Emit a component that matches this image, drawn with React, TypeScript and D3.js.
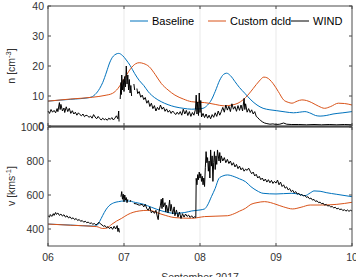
import React from 'react';
import * as d3 from 'd3';

// time in days after 2017-09-06 00:00
const dayTicks = [0, 1, 2, 3, 4];
const dayLabels = ['06', '07', '08', '09', '10'];
const densityTicks = [0, 10, 20, 30, 40];
const speedTicks = [400, 600, 800, 1000];

const seriesNames = ['Baseline', 'Custom dcld', 'WIND'];
const seriesColors = ['#0072BD', '#D95319', '#000000'];

// proton density [cm^-3]
const baselineDensity: [number, number][] = [
  [0, 8.3], [0.3, 8.9], [0.55, 9.5], [0.62, 10.5], [0.68, 12.5], [0.72, 14.5], [0.77, 18],
  [0.81, 21], [0.86, 23.3], [0.93, 24.2], [0.98, 23.5], [1.03, 22], [1.08, 20.2], [1.14, 17.5],
  [1.2, 15.2], [1.26, 13.5], [1.32, 11.4], [1.4, 9.5], [1.49, 8.1], [1.58, 7.1], [1.67, 6.4],
  [1.78, 5.9], [1.89, 5.6], [1.98, 5.7], [2.04, 5.9], [2.1, 7], [2.15, 8.7], [2.2, 11.5],
  [2.26, 15.3], [2.31, 17.2], [2.35, 17.6], [2.4, 16.8], [2.46, 14.8], [2.52, 12.8], [2.59, 10.9],
  [2.67, 8.7], [2.75, 7], [2.83, 5.9], [2.92, 5.4], [3.01, 5.1], [3.12, 4.7], [3.23, 4.4],
  [3.31, 4.6], [3.38, 4.8], [3.46, 4.2], [3.52, 3.5], [3.58, 3.3], [3.66, 3.5], [3.75, 4.0],
  [3.88, 4.4], [4.0, 4.8],
];

const customDensity: [number, number][] = [
  [0, 8.3], [0.3, 9.0], [0.59, 9.6], [0.75, 10.2], [0.85, 10.9], [0.92, 12.5], [0.98, 14.8],
  [1.04, 17.3], [1.09, 19.2], [1.15, 20.7], [1.2, 21.1], [1.26, 20.8], [1.33, 19.8], [1.41, 17.2],
  [1.49, 14.2], [1.58, 12], [1.67, 10.3], [1.78, 9], [1.89, 8.1], [2.0, 7.9], [2.06, 7.8],
  [2.2, 7.2], [2.32, 6.7], [2.42, 7.0], [2.5, 7.6], [2.57, 8.8], [2.63, 10.3], [2.7, 12.5],
  [2.78, 15], [2.84, 16.3], [2.88, 16.1], [2.96, 14.2], [3.03, 11.5], [3.1, 8.7], [3.16, 7.9],
  [3.21, 7.6], [3.28, 8.3], [3.34, 8.7], [3.4, 8.5], [3.47, 7.8], [3.56, 6.6], [3.64, 5.9],
  [3.72, 6.5], [3.82, 7.6], [3.9, 7.5], [4.0, 7.0],
];

// null marks a data gap
const windDensity: [number, number | null][] = [
  [0, 5.0], [0.02, 4.2], [0.04, 5.5], [0.06, 4.6], [0.08, 5.2], [0.1, 4.4], [0.12, 5.8],
  [0.13, 4.8], [0.15, 7.8], [0.16, 5.5], [0.17, 7.2], [0.19, 5.0], [0.21, 6.0], [0.22, 4.5],
  [0.24, 6.4], [0.26, 4.8], [0.28, 5.9], [0.3, 4.2], [0.32, 5.1], [0.34, 4.0], [0.36, 4.6],
  [0.38, 3.6], [0.4, 4.4], [0.42, 3.8], [0.44, 3.4], [0.46, 4.0], [0.48, 3.1], [0.5, 3.6],
  [0.52, 3.4], [0.54, 2.9], [0.56, 3.3], [0.58, 2.6], [0.6, 3.8], [0.62, 3.0], [0.64, 2.4],
  [0.66, 3.2], [0.68, 2.5], [0.7, 2.0], [0.72, 2.6], [0.74, 2.1], [0.76, 2.4], [0.78, 1.9],
  [0.8, 2.6], [0.82, 2.2], [0.84, 2.8], [0.86, 2.0], [0.88, 2.6], [0.9, 3.4], [0.92, 2.4],
  [0.93, 5.0], [0.935, 1.5], [0.94, null],
  [0.95, 9.0], [0.96, 14.5], [0.965, 10.5], [0.97, 17.0], [0.98, 12.0], [0.99, 15.5],
  [1.0, 11.5], [1.01, 16.5], [1.02, 13.0], [1.03, 20.0], [1.04, 14.0], [1.05, 17.0],
  [1.06, 12.0], [1.07, 15.5], [1.08, 11.0], [1.09, 13.5], [1.1, 10.0], [1.11, null],
  [1.13, 14.0], [1.14, 12.0], [1.15, null],
  [1.17, 12.5], [1.18, 10.8], [1.2, 11.5], [1.22, 9.6], [1.24, 10.3], [1.26, 8.8], [1.28, 9.5],
  [1.3, 7.6], [1.32, 8.5], [1.34, 6.5], [1.36, 7.6], [1.38, 5.8], [1.4, 6.8], [1.42, 5.0],
  [1.44, 6.2], [1.46, 5.4], [1.48, 7.0], [1.5, 5.6], [1.52, 6.3], [1.54, 4.9], [1.56, 5.7],
  [1.58, 4.6], [1.6, 5.2], [1.62, 4.2], [1.64, 5.0], [1.66, 4.4], [1.68, 3.8], [1.7, 4.6],
  [1.72, 3.9], [1.74, 4.8], [1.76, 3.6], [1.78, 5.6], [1.8, 4.0], [1.82, 5.2], [1.84, 3.5],
  [1.86, 4.8], [1.88, 3.2], [1.9, 4.5], [1.92, 3.6], [1.94, 5.5], [1.95, 10.3], [1.96, 4.0],
  [1.97, 8.0], [1.98, 3.5], [1.99, 11.0], [2.0, 4.5], [2.01, 8.5], [2.02, 3.0], [2.04, 4.2],
  [2.06, 2.8], [2.08, 4.0], [2.1, 2.6], [2.12, 3.6], [2.14, 2.4], [2.16, 3.8], [2.18, 2.9],
  [2.2, 4.4], [2.22, 3.2], [2.24, 5.0], [2.26, 3.6], [2.28, 4.8], [2.3, 6.2], [2.32, 4.6],
  [2.34, 7.0], [2.36, 5.3], [2.38, 6.6], [2.4, 4.8], [2.42, 7.4], [2.44, 5.6], [2.46, 6.5],
  [2.48, 4.9], [2.5, 6.8], [2.52, 5.2], [2.54, 7.0], [2.56, 5.0], [2.58, 9.2], [2.59, 5.5],
  [2.6, 7.4], [2.62, 4.6], [2.64, 5.8], [2.66, 4.5], [2.68, 5.4], [2.7, 4.0], [2.72, 4.8],
  [2.74, 3.2], [2.76, 2.8], [2.78, 2.2], [2.8, 1.8], [2.82, 1.4], [2.85, 1.0], [2.88, 0.8],
  [2.92, 0.6], [2.96, 0.7], [3.0, 0.5], [3.05, 0.6], [3.1, 1.0], [3.14, 0.6], [3.2, 0.5],
  [3.3, 0.5], [3.4, 0.4], [3.5, 0.5], [3.6, 0.4], [3.7, 0.5], [3.8, 0.4], [3.9, 0.5], [4.0, 0.4],
];

// solar wind speed [km/s]
const baselineSpeed: [number, number][] = [
  [0, 429], [0.3, 423], [0.6, 417], [0.64, 420], [0.68, 445], [0.72, 480], [0.76, 512],
  [0.8, 535], [0.86, 553], [0.93, 561], [1.0, 565], [1.05, 565], [1.15, 556], [1.26, 545],
  [1.36, 528], [1.5, 506], [1.67, 492], [1.8, 497], [1.89, 506], [2.0, 512], [2.06, 518],
  [2.1, 541], [2.15, 590], [2.2, 639], [2.25, 698], [2.3, 712], [2.36, 718], [2.45, 708],
  [2.52, 695], [2.6, 678], [2.67, 649], [2.75, 625], [2.83, 610], [3.0, 606], [3.2, 610],
  [3.3, 605], [3.38, 596], [3.45, 612], [3.5, 624], [3.58, 622], [3.66, 614], [3.8, 604],
  [4.0, 590],
];

const customSpeed: [number, number][] = [
  [0, 429], [0.3, 422], [0.64, 414], [0.72, 403], [0.77, 405], [0.84, 428], [0.9, 446],
  [0.97, 463], [1.05, 485], [1.12, 498], [1.2, 506], [1.32, 510], [1.5, 486], [1.67, 467],
  [1.89, 463], [2.06, 473], [2.36, 478], [2.45, 490], [2.52, 505], [2.6, 522], [2.67, 545],
  [2.75, 555], [2.85, 561], [2.93, 555], [3.0, 545], [3.1, 530], [3.22, 518], [3.33, 528],
  [3.45, 541], [3.6, 541], [3.8, 545], [4.0, 557],
];

const windSpeed: [number, number | null][] = [
  [0, 478], [0.02, 470], [0.03, 485], [0.05, 474], [0.07, 490], [0.08, 480], [0.1, 497],
  [0.11, 486], [0.13, 494], [0.15, 480], [0.17, 488], [0.19, 476], [0.21, 484], [0.23, 470],
  [0.25, 478], [0.27, 465], [0.29, 472], [0.31, 460], [0.33, 466], [0.35, 455], [0.37, 462],
  [0.39, 450], [0.41, 456], [0.43, 445], [0.45, 450], [0.47, 440], [0.49, 446], [0.51, 437],
  [0.53, 441], [0.55, 432], [0.57, 436], [0.59, 428], [0.61, 432], [0.63, 424], [0.65, 430],
  [0.67, 440], [0.69, 430], [0.71, 424], [0.73, 416], [0.75, 420], [0.77, 408], [0.79, 414],
  [0.81, 402], [0.83, 412], [0.85, 398], [0.87, 416], [0.89, 400], [0.91, 420], [0.92, 385],
  [0.93, 405], [0.94, 380], [0.95, null],
  [0.96, 590], [0.97, 620], [0.98, 575], [0.99, 605], [1.0, 560], [1.01, 600], [1.02, 570],
  [1.03, 585], [1.04, 555], [1.05, 575], [1.06, null],
  [1.08, 560], [1.09, 570], [1.1, null],
  [1.13, 550], [1.16, 548], [1.2, 540], [1.24, 545], [1.26, 530], [1.28, 545], [1.3, 520],
  [1.32, 510], [1.34, 530], [1.36, 495], [1.38, 505], [1.4, 492], [1.42, 510], [1.44, 470],
  [1.45, 455], [1.46, 500], [1.48, 540], [1.49, 575], [1.5, 520], [1.51, 582], [1.52, 530],
  [1.54, 555], [1.55, 500], [1.56, 540], [1.58, 495], [1.6, 570], [1.61, 505], [1.62, 545],
  [1.64, 488], [1.66, 530], [1.67, 478], [1.69, 512], [1.71, 470], [1.73, 500], [1.75, 462],
  [1.77, 490], [1.79, 470], [1.81, 488], [1.83, 474], [1.85, 482], [1.87, 468], [1.89, 478],
  [1.91, 466], [1.93, 472], [1.945, 468], [1.95, 698], [1.96, 660], [1.97, 720], [1.98, 690],
  [1.99, 735], [2.0, 700], [2.01, 725], [2.02, 680], [2.03, 710], [2.04, 660], [2.05, 700],
  [2.06, 650], [2.07, 760], [2.08, 855], [2.09, 790], [2.1, 820], [2.11, 740], [2.12, 800],
  [2.13, 700], [2.14, 865], [2.15, 770], [2.16, 830], [2.17, 680], [2.18, 790], [2.19, 855],
  [2.2, 750], [2.21, 830], [2.22, 780], [2.23, 865], [2.25, 800], [2.26, 850], [2.27, 790],
  [2.28, 830], [2.3, 800], [2.32, 820], [2.34, 790], [2.36, 810], [2.38, 785], [2.4, 800],
  [2.42, 775], [2.44, 790], [2.46, 765], [2.48, 780], [2.5, 755], [2.52, 770], [2.54, 748],
  [2.56, 760], [2.58, 740], [2.6, 752], [2.62, 745], [2.64, 758], [2.66, 740], [2.68, 725],
  [2.7, 735], [2.72, 712], [2.74, 722], [2.76, 700], [2.78, 710], [2.8, 690], [2.82, 700],
  [2.84, 682], [2.86, 694], [2.88, 676], [2.9, 690], [2.92, 672], [2.94, 686], [2.96, 668],
  [2.98, 680], [3.0, 670], [3.02, 688], [3.04, 660], [3.06, 676], [3.08, 650], [3.1, 660],
  [3.12, 640], [3.14, 648], [3.16, 630], [3.18, 638], [3.2, 620], [3.22, 628], [3.24, 612],
  [3.26, 620], [3.28, 605], [3.3, 610], [3.32, 598], [3.34, 604], [3.36, 594], [3.38, 598],
  [3.4, 586], [3.42, 590], [3.44, 578], [3.46, 582], [3.48, 570], [3.5, 574], [3.52, 562],
  [3.54, 566], [3.56, 555], [3.58, 558], [3.6, 548], [3.62, 552], [3.64, 540], [3.66, 545],
  [3.68, 535], [3.7, 538], [3.72, 530], [3.74, 532], [3.76, 524], [3.78, 528], [3.8, 518],
  [3.82, 522], [3.84, 514], [3.86, 518], [3.88, 508], [3.9, 514], [3.92, 505], [3.94, 512],
  [3.96, 504], [3.98, 510], [4.0, 506],
];

const W = 356;
const H = 277;
const FONT = '"Liberation Sans", Arial, Helvetica, sans-serif';
const AXIS = '#4a4a4a';
const TEXT = '#333333';

const x = d3.scaleLinear().domain([0, 4]).range([48, 352]);
const yN = d3.scaleLinear().domain([0, 40]).range([126, 6]);
const yV = d3.scaleLinear().domain([300, 1000]).range([246, 127]);

type Pt = [number, number | null];

function path(data: Pt[], y: d3.ScaleLinear<number, number>, smooth: boolean) {
  const gen = d3
    .line<Pt>()
    .defined((d) => d[1] !== null)
    .x((d) => x(d[0]))
    .y((d) => y(d[1] as number));
  if (smooth) gen.curve(d3.curveMonotoneX);
  return gen(data) || '';
}

function Panel({
  y,
  ticks,
  series,
}: {
  y: d3.ScaleLinear<number, number>;
  ticks: number[];
  series: { data: Pt[]; color: string; smooth: boolean }[];
}) {
  const [y0, y1] = y.range();
  const [x0, x1] = x.range();
  return (
    <g>
      {dayTicks.slice(1, -1).map((d) => (
        <line key={'g' + d} x1={x(d)} x2={x(d)} y1={y1} y2={y0} stroke="#e3e3e3" strokeWidth={0.8} />
      ))}
      {series.map((s, i) => (
        <path key={i} d={path(s.data, y, s.smooth)} fill="none" stroke={s.color} strokeWidth={1} />
      ))}
      <rect x={x0} y={y1} width={x1 - x0} height={y0 - y1} fill="none" stroke={AXIS} strokeWidth={1} />
      {ticks.map((t) => (
        <g key={'t' + t}>
          <line x1={x0} x2={x0 + 3} y1={y(t)} y2={y(t)} stroke={AXIS} />
          <line x1={x1} x2={x1 - 3} y1={y(t)} y2={y(t)} stroke={AXIS} />
          <text x={44} y={y(t)} dy="0.35em" textAnchor="end" fontSize={10.5} fill={TEXT} fontFamily={FONT}>
            {t}
          </text>
        </g>
      ))}
      {dayTicks.map((d) => (
        <g key={'x' + d}>
          <line x1={x(d)} x2={x(d)} y1={y0} y2={y0 - 3} stroke={AXIS} />
          <line x1={x(d)} x2={x(d)} y1={y1} y2={y1 + 3} stroke={AXIS} />
        </g>
      ))}
    </g>
  );
}

export default function App() {
  const legendX = [130, 208, 291];
  return (
    <svg width={W} height={H} style={{ position: 'absolute', left: 0, top: 0, background: '#fff' }}>
      <Panel
        y={yN}
        ticks={densityTicks}
        series={[
          { data: baselineDensity, color: seriesColors[0], smooth: true },
          { data: customDensity, color: seriesColors[1], smooth: true },
          { data: windDensity, color: seriesColors[2], smooth: false },
        ]}
      />
      <Panel
        y={yV}
        ticks={speedTicks}
        series={[
          { data: baselineSpeed, color: seriesColors[0], smooth: true },
          { data: customSpeed, color: seriesColors[1], smooth: true },
          { data: windSpeed, color: seriesColors[2], smooth: false },
        ]}
      />
      <line x1={48} x2={352} y1={126.5} y2={126.5} stroke={AXIS} strokeWidth={1.6} />

      {seriesNames.map((name, i) => (
        <g key={name}>
          <line x1={legendX[i]} x2={legendX[i] + 18} y1={21} y2={21} stroke={seriesColors[i]} strokeWidth={1} />
          <text x={legendX[i] + 22} y={21} dy="0.35em" fontSize={11} fill="#000" fontFamily={FONT}>
            {name}
          </text>
        </g>
      ))}

      {dayTicks.map((d, i) => (
        <text key={d} x={x(d)} y={261} textAnchor="middle" fontSize={10.5} fill={TEXT} fontFamily={FONT}>
          {dayLabels[i]}
        </text>
      ))}
      <text x={200} y={281} textAnchor="middle" fontSize={10.5} fill={TEXT} fontFamily={FONT}>
        September 2017
      </text>

      <text transform="translate(15,66) rotate(-90)" textAnchor="middle" fontSize={10.5} fill={TEXT} fontFamily={FONT}>
        n [cm
        <tspan dy={-4} fontSize={7.5}>-3</tspan>
        <tspan dy={4}>]</tspan>
      </text>
      <text transform="translate(15,186) rotate(-90)" textAnchor="middle" fontSize={10.5} fill={TEXT} fontFamily={FONT}>
        v [kms
        <tspan dy={-4} fontSize={7.5}>-1</tspan>
        <tspan dy={4}>]</tspan>
      </text>
    </svg>
  );
}
